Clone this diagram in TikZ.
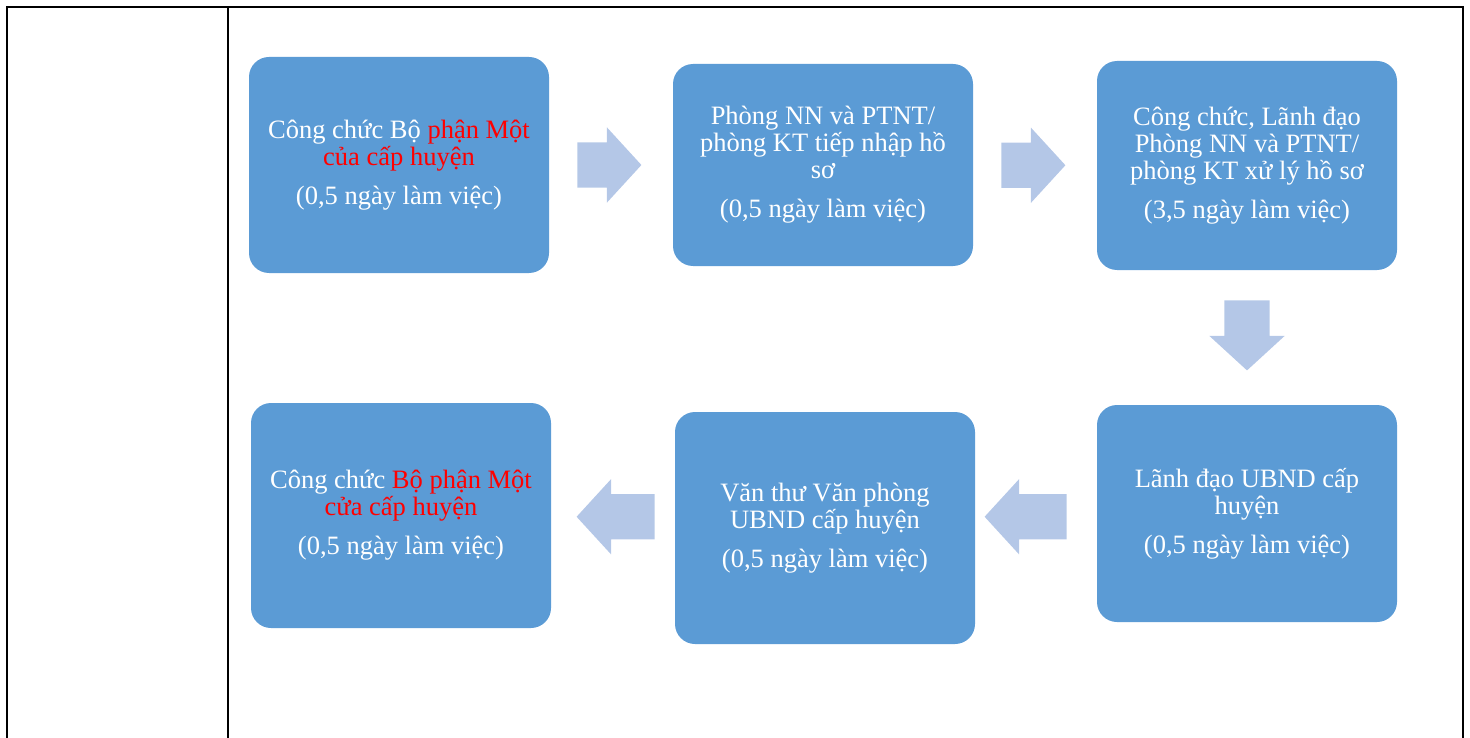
\documentclass[tikz,border=0pt]{standalone}
\usepackage{fontspec}
\setmainfont{Liberation Serif}
\usetikzlibrary{shapes.arrows,calc}

\definecolor{boxblue}{HTML}{5B9BD5}
\definecolor{arrowblue}{HTML}{B4C7E7}

\begin{document}
\begin{tikzpicture}[x=1pt, y=-1pt,
			stepbox/.style={rectangle, rounded corners=20pt, fill=boxblue, text=white, align=center, minimum width=300pt, inner sep=0pt, font=\fontsize{26.5}{27}\selectfont},
			blockarrow/.style={single arrow, fill=arrowblue, inner xsep=0pt, inner ysep=22.5pt, single arrow head extend=15pt, single arrow tip angle=95},
			rule/.style={line width=2pt, black},
		]
		
			%Frame
			\useasboundingbox (0,0) rectangle (1470,738);
			\draw[rule]	(7,738) -- (7,7) -- (1463,7) -- (1463,738);
			\draw[rule]	(228,7) -- (228,738);
		
			%Nodes
			\node[stepbox, minimum height=216pt]	(s1) at (399,165)	{Công chức Bộ \textcolor{red}{phận Một}\\\textcolor{red}{của cấp huyện}\\[12pt](0,5 ngày làm việc)};
			\node[stepbox, minimum height=202pt]	(s2) at (823,165)	{Phòng NN và PTNT/\\phòng KT tiếp nhập hồ\\sơ\\[12pt](0,5 ngày làm việc)};
			\node[stepbox, minimum height=209pt]	(s3) at (1247,165.5)	{Công chức, Lãnh đạo\\Phòng NN và PTNT/\\phòng KT xử lý hồ sơ\\[12pt](3,5 ngày làm việc)};
			\node[stepbox, minimum height=217pt]	(s4) at (1247,513.5)	{Lãnh đạo UBND cấp\\huyện\\[12pt](0,5 ngày làm việc)};
			\node[stepbox, minimum height=232pt]	(s5) at (825,528)	{Văn thư Văn phòng\\UBND cấp huyện\\[12pt](0,5 ngày làm việc)};
			\node[stepbox, minimum height=225pt]	(s6) at (401,515.5)	{Công chức \textcolor{red}{Bộ phận Một}\\\textcolor{red}{cửa cấp huyện}\\[12pt](0,5 ngày làm việc)};
		
			%Arrows
			\node[blockarrow, minimum height=64pt]	(a1) at ($(s1.east)!0.5!(s2.west)+(-12,0)$)	{};
			\node[blockarrow, minimum height=64pt]	(a2) at ($(s2.east)!0.5!(s3.west)+(-12,0)$)	{};
			\node[blockarrow, minimum height=70pt, shape border rotate=270, inner xsep=22.5pt, inner ysep=0pt]	(a3) at ($(s3.south)!0.5!(s4.north)+(0,-12.5)$)	{};
			\node[blockarrow, minimum height=82pt, shape border rotate=180]	(a4) at ($(s4.west)!0.5!(s5.east)+(0,-4)$)	{};
			\node[blockarrow, minimum height=78pt, shape border rotate=180]	(a5) at ($(s5.west)!0.5!(s6.east)+(13,-5)$)	{};
		
		\end{tikzpicture}
\end{document}
